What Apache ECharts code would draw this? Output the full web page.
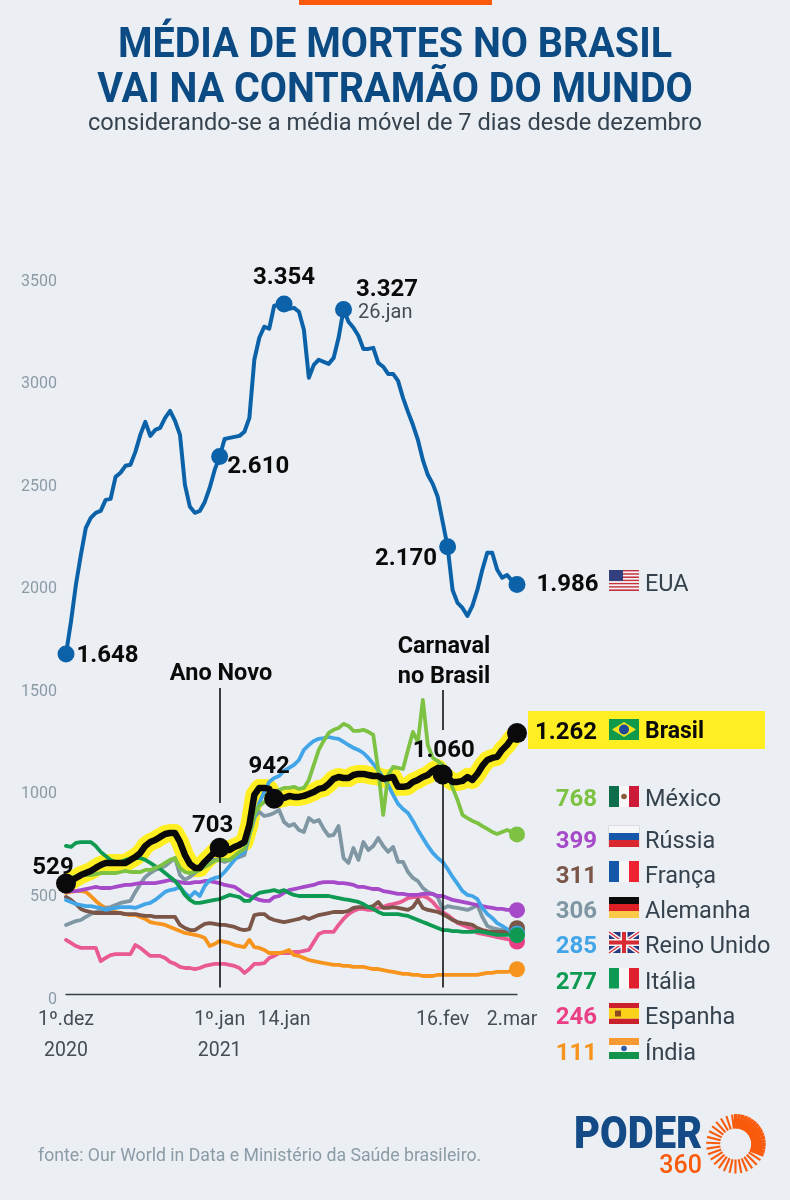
<!DOCTYPE html>
<html lang="pt-BR">
<head>
<meta charset="utf-8">
<title>Média de mortes no Brasil</title>
<style>html,body{margin:0;padding:0;background:#ebeff3}#grafico{width:790px;height:1200px}</style>
<script src="https://cdn.jsdelivr.net/npm/echarts@6/dist/echarts.min.js"></script>
</head>
<body>
<div id="grafico"></div>
<script>
// Média móvel de 7 dias de mortes, de 1º.dez.2020 a 2.mar.2021 (um valor por dia)
const eua = [
  1648,1804,1985,2131,2262,2311,2336,2345,2399,2404,
  2511,2531,2565,2570,2633,2716,2779,2711,2740,2750,
  2799,2833,2784,2716,2472,2365,2336,2345,2389,2458,
  2545,2610,2696,2701,2706,2711,2731,2799,3082,3189,
  3243,3233,3345,3350,3354,3330,3335,3316,3228,2994,
  3057,3082,3072,3062,3091,3189,3327,3267,3238,3199,
  3135,3135,3140,3067,3048,3013,3013,2979,2896,2828,
  2765,2692,2594,2521,2477,2414,2292,2170,1960,1897,
  1872,1833,1882,1960,2058,2141,2141,2058,2019,2033,
  2004,1986];
const brasil = [
  529,541,556,570,580,590,605,619,629,629,
  629,629,629,644,658,678,712,731,741,756,
  770,775,775,731,668,624,605,605,634,658,
  683,703,697,692,707,717,731,814,961,995,
  995,990,942,941,946,956,951,951,956,965,
  975,990,995,1014,1039,1048,1043,1043,1058,1063,
  1063,1058,1053,1053,1039,1043,1048,1000,1000,1004,
  1024,1034,1048,1058,1078,1092,1060,1043,1024,1024,
  1029,1048,1034,1063,1102,1131,1141,1146,1180,1204,
  1238,1262];
const mexico = [
  546,556,566,570,570,570,575,580,580,580,
  580,585,590,585,585,585,595,595,605,614,
  629,644,653,605,585,580,585,595,610,624,
  639,644,644,644,663,683,697,766,863,907,
  926,941,961,985,995,995,1000,990,995,1034,
  1107,1180,1224,1263,1278,1287,1307,1297,1273,1273,
  1278,1268,1253,1082,863,1058,1097,1092,1087,1180,
  1268,1219,1424,1204,1141,1126,1107,1058,995,936,
  863,848,834,824,809,795,780,770,780,790,
  780,768];
const russia = [
  488,492,492,497,502,507,512,507,507,507,
  512,517,522,522,527,531,531,531,531,536,
  541,546,541,536,531,531,536,536,541,541,
  536,531,522,517,512,497,478,468,458,449,
  444,444,463,468,483,497,502,507,512,517,
  522,531,536,536,536,531,531,527,522,512,
  512,507,502,502,492,488,483,478,478,473,
  473,473,478,478,478,468,468,458,449,444,
  439,434,429,424,419,414,410,405,405,400,
  400,399];
const franca = [
  463,449,429,405,395,390,385,385,385,385,
  385,385,380,380,380,375,371,371,366,366,
  366,366,366,327,312,302,302,317,332,336,
  332,327,327,322,317,307,302,307,375,380,
  380,361,351,346,341,346,351,356,366,356,
  366,375,380,385,390,390,390,395,410,414,
  414,414,419,439,410,410,414,410,405,400,
  414,449,410,400,395,390,380,366,351,341,
  336,332,327,312,302,297,293,293,293,297,
  307,311];
const alemanha = [
  327,336,346,351,366,380,390,400,410,414,
  424,434,439,444,488,527,561,580,595,605,
  614,634,653,570,546,561,580,600,624,644,
  644,644,634,644,653,658,668,766,853,878,
  858,863,873,887,829,809,819,790,780,848,
  829,839,795,761,766,809,653,629,702,644,
  731,692,712,751,712,683,707,634,634,585,
  556,541,507,488,478,463,405,419,414,410,
  405,400,410,424,366,322,312,307,302,297,
  293,306];
const reinoUnido = [
  449,439,429,424,419,419,414,410,400,405,
  410,414,414,414,410,419,429,434,449,468,
  488,497,502,512,483,463,488,468,517,546,
  556,561,585,614,644,668,683,766,848,922,
  975,1024,1043,1053,1078,1092,1107,1131,1180,1204,
  1224,1234,1238,1243,1238,1234,1219,1204,1190,1180,
  1165,1141,1112,1082,1043,1009,961,917,892,873,
  834,790,751,712,678,653,634,600,561,527,
  492,473,468,453,410,380,361,336,322,307,
  297,285];
const italia = [
  712,707,727,731,731,731,712,683,663,644,
  634,634,644,649,653,653,644,629,614,600,
  580,561,541,512,473,449,434,434,439,444,
  449,453,463,473,468,463,444,444,468,483,
  488,492,497,488,497,483,473,468,468,468,
  468,468,468,468,463,458,453,449,444,439,
  429,414,405,390,380,380,380,380,375,371,
  361,351,341,332,322,312,302,302,297,297,
  293,293,293,297,293,288,283,278,278,278,
  278,277];
const espanha = [
  254,239,224,215,215,215,215,151,166,180,
  185,185,185,185,229,215,195,176,176,176,
  166,146,137,122,117,117,112,117,127,132,
  137,137,137,132,127,117,93,112,137,137,
  141,166,176,190,190,190,195,195,200,205,
  244,283,293,293,293,327,356,380,395,405,
  405,400,400,410,414,424,429,434,444,458,
  463,463,468,458,439,410,390,375,356,336,
  327,317,307,288,283,278,273,268,263,258,
  254,246];
const india = [
  483,488,492,492,488,468,444,424,410,400,
  390,385,380,375,375,366,356,341,336,332,
  327,317,307,297,288,283,278,273,263,224,
  234,249,244,239,229,224,219,254,219,215,
  205,190,190,190,195,205,180,176,166,156,
  151,146,141,137,132,132,127,127,122,122,
  122,117,112,112,107,102,98,93,88,88,
  83,83,78,78,78,83,83,83,83,83,
  83,83,83,83,88,93,93,98,98,98,
  102,111];

const dias = eua.map((_, i) => String(i));
const rotulosX = {0: '1º.dez\n2020', 31: '1º.jan\n2021', 44: '14.jan', 76: '16.fev', 90: '2.mar'};
const ticksY = [0, 500, 1000, 1500, 2000, 2500, 3000, 3500];

const AZUL = '#0c62a9';
const PRETO = '#0a0a0a';
const AMARELO = '#ffee22';
const TEXTO = '#36424d';
const EIXO = '#8b9ba6';

// Países de menor destaque: ordem de desenho, de baixo para cima
const paises = [
  {nome: 'Espanha',     dados: espanha,    cor: '#ea5a92', corPonto: '#ea3f85'},
  {nome: 'Índia',       dados: india,      cor: '#f7941e'},
  {nome: 'Alemanha',    dados: alemanha,   cor: '#7f96a3'},
  {nome: 'França',      dados: franca,     cor: '#7a5548'},
  {nome: 'Rússia',      dados: russia,     cor: '#a64ac9'},
  {nome: 'Reino Unido', dados: reinoUnido, cor: '#42a5e8'},
  {nome: 'Itália',      dados: italia,     cor: '#0e9a52'},
  {nome: 'México',      dados: mexico,     cor: '#7dc242'}
];

const linha = (nome, dados, cor, largura, z) => ({
  name: nome, type: 'line', data: dados, symbol: 'none', silent: true, z,
  lineStyle: {color: cor, width: largura, join: 'round', cap: 'round'}
});

const rotuloNum = (extra) => Object.assign({
  show: true, color: PRETO, fontFamily: 'Roboto', fontWeight: 700, fontSize: 24
}, extra);

const ponto = (serie, i, label) => ({value: [i, serie[i]], label});

const pontosEua = [
  ponto(eua, 0,  rotuloNum({position: 'right', distance: 2, offset: [0, 2], formatter: '1.648'})),
  ponto(eua, 31, rotuloNum({position: 'right', distance: -1, offset: [0, 10], formatter: '2.610'})),
  ponto(eua, 44, rotuloNum({position: 'top', distance: 5, formatter: '3.354'})),
  ponto(eua, 56, rotuloNum({
    position: 'right', distance: 4, offset: [0, -9],
    formatter: '{a|3.327}\n{b|26.jan}',
    rich: {
      a: {fontFamily: 'Roboto', fontWeight: 700, fontSize: 24, color: PRETO, lineHeight: 25},
      b: {fontFamily: 'Roboto', fontWeight: 400, fontSize: 20, color: '#444d55', lineHeight: 20, padding: [0, 0, 0, 2]}
    }
  })),
  ponto(eua, 77, rotuloNum({position: 'left', distance: 2, offset: [0, 12], formatter: '2.170'})),
  ponto(eua, 91, rotuloNum({position: 'right', distance: 11, offset: [0, 0], formatter: '1.986'}))
];

const pontosBrasil = [
  ponto(brasil, 0,  rotuloNum({position: 'top', distance: 4, offset: [-13, 11], formatter: '529'})),
  ponto(brasil, 31, rotuloNum({position: 'top', distance: 1, offset: [-7, 1], formatter: '703'})),
  ponto(brasil, 42, rotuloNum({position: 'top', distance: 2, offset: [-5, -8], formatter: '942'})),
  ponto(brasil, 76, rotuloNum({position: 'top', distance: 3, offset: [1, 1], formatter: '1.060'})),
  ponto(brasil, 91, {show: false})
];

const ultimo = eua.length - 1;

const series = [
  linha('EUA', eua, AZUL, 4, 2),
  linha('Brasil (destaque)', brasil, AMARELO, 18, 1)
];
paises.forEach(p => series.push(linha(p.nome, p.dados, p.cor, 3.8, 2)));
series.push(Object.assign(linha('Brasil', brasil, PRETO, 6.5, 3), {
  markLine: {
    silent: true, symbol: 'none', animation: false,
    label: {show: false},
    lineStyle: {color: '#111', width: 1.6, type: 'solid'},
    data: [
      [{coord: ['31', 1482]}, {coord: ['31', 921]}],
      [{coord: ['31', 703]},  {coord: ['31', 22]}],
      [{coord: ['76', 1472]}, {coord: ['76', 1277]}],
      [{coord: ['76', 1060]}, {coord: ['76', 22]}]
    ]
  }
}));
paises.forEach(p => series.push({
  name: p.nome + ' (fim)', type: 'scatter', symbolSize: 16, z: 4, silent: true,
  itemStyle: {color: p.corPonto || p.cor, opacity: 1},
  data: [[ultimo, p.dados[ultimo]]]
}));
series.push({name: 'EUA (pontos)', type: 'scatter', symbolSize: 17, z: 5, silent: true,
  itemStyle: {color: AZUL, opacity: 1}, data: pontosEua});
series.push({name: 'Brasil (pontos)', type: 'scatter', symbolSize: 20, z: 5, silent: true,
  itemStyle: {color: PRETO, opacity: 1}, data: pontosBrasil});

// ---- textos, bandeiras e marca ----
const el = [];
const ret = (x, y, w, h, fill, z) => el.push({type: 'rect', shape: {x, y, width: w, height: h}, style: {fill}, silent: true, z: z || 10});
const txt = (x, y, text, font, fill, align, extra) => el.push(Object.assign({
  type: 'text', x, y: y + 2, silent: true, z: 12,
  style: {text, font, fill, align: align || 'left', verticalAlign: 'middle'}
}, extra || {}));

ret(299, 0, 193, 5, '#f95a0b');
txt(395, 44, 'MÉDIA DE MORTES NO BRASIL', '700 42px Roboto', '#0b4a82', 'center', {scaleX: .94});
txt(395, 89, 'VAI NA CONTRAMÃO DO MUNDO', '700 42px Roboto', '#0b4a82', 'center', {scaleX: .94});
txt(395, 122, 'considerando-se a média móvel de 7 dias desde dezembro', '400 23.6px Roboto', TEXTO, 'center');

txt(221, 672, 'Ano Novo', '700 23.5px Roboto', PRETO, 'center');
txt(444, 645, 'Carnaval', '700 23.5px Roboto', PRETO, 'center');
txt(444, 675, 'no Brasil', '700 23.5px Roboto', PRETO, 'center');

// faixa do Brasil
ret(528, 711, 237, 38, AMARELO, 0);
txt(597, 731, '1.262', '700 24px Roboto', PRETO, 'right');
txt(645, 730, 'Brasil', '700 23px Roboto', PRETO);

txt(645, 583, 'EUA', '400 23.5px Roboto', TEXTO);

const legenda = [
  ['768', 'México', '#7dc242', 798],
  ['399', 'Rússia', '#a64ac9', 840],
  ['311', 'França', '#7a5548', 875],
  ['306', 'Alemanha', '#7f96a3', 910],
  ['285', 'Reino Unido', '#42a5e8', 945],
  ['277', 'Itália', '#0e9a52', 981],
  ['246', 'Espanha', '#ea3f85', 1016],
  ['111', 'Índia', '#f7941e', 1052]
];
legenda.forEach(([n, nome, cor, y]) => {
  txt(597, y, n, '700 24px Roboto', cor, 'right');
  txt(645, y, nome, '400 23.5px Roboto', TEXTO);
});

// bandeiras
const FX = 609, FW = 30;
const faixasV = (y, h, c) => c.forEach((cor, i) => ret(FX + i * FW / 3, y, FW / 3, h, cor));
const faixasH = (y, h, c) => {
  const total = c.reduce((s, f) => s + f[1], 0);
  let yy = y;
  c.forEach(f => { ret(FX, yy, FW, h * f[1] / total, f[0]); yy += h * f[1] / total; });
};
const poli = (points, fill) => el.push({type: 'polygon', shape: {points}, style: {fill}, silent: true, z: 11});
const circ = (cx, cy, r, fill) => el.push({type: 'circle', shape: {cx, cy, r}, style: {fill}, silent: true, z: 11});
const traco = (x1, y1, x2, y2, stroke, w) => el.push({type: 'line', shape: {x1, y1, x2, y2}, style: {stroke, lineWidth: w}, silent: true, z: 11});

// EUA
faixasH(570, 21, Array.from({length: 13}, (_, i) => [i % 2 ? '#f4f4f4' : '#c8323e', 1]));
ret(FX, 570, 14, 11, '#33407f', 11);
// Brasil
ret(FX, 719, FW, 21, '#0f9a4b');
poli([[FX + 3, 729.5], [FX + 15, 722], [FX + 27, 729.5], [FX + 15, 737]], '#f7e31c');
circ(FX + 15, 729.5, 5, '#1f4a9a');
// México
faixasV(786, 21, ['#0d6e4c', '#f7f7f7', '#ce1a39']);
circ(FX + 15, 796.5, 2.8, '#8a5a3a');
// Rússia
ret(FX - .5, 825.5, FW + 1, 21.5, '#c9cdd1');
faixasH(826, 21, [['#f6f6f6', 1], ['#1557a8', 1], ['#d8272e', 1]]);
// França
faixasV(861, 21, ['#1557a8', '#f6f6f6', '#ee2230']);
// Alemanha
faixasH(897, 21, [['#0a0a0a', 1], ['#dd1f26', 1], ['#fbc94a', 1]]);
// Reino Unido
ret(FX, 932, FW, 21, '#26397f');
traco(FX, 932, FX + FW, 953, '#f6f6f6', 4);
traco(FX, 953, FX + FW, 932, '#f6f6f6', 4);
traco(FX, 932, FX + FW, 953, '#d62a35', 1.3);
traco(FX, 953, FX + FW, 932, '#d62a35', 1.3);
ret(FX + 11.5, 932, 7, 21, '#f6f6f6', 11);
ret(FX, 939, FW, 7, '#f6f6f6', 11);
ret(FX + 13, 932, 4, 21, '#d62a35', 11);
ret(FX, 940.5, FW, 4, '#d62a35', 11);
// Itália
faixasV(968, 20.5, ['#0e9a52', '#f6f6f6', '#e0202e']);
// Espanha
faixasH(1003, 21, [['#c9202c', 1], ['#fbd11a', 2], ['#c9202c', 1]]);
ret(FX + 6, 1010.5, 6, 6, '#8f4a20', 11);
// Índia
faixasH(1038, 21, [['#f89a33', 1], ['#f6f6f6', 1], ['#12924a', 1]]);
circ(FX + 15, 1048.5, 2.8, '#2a5aa8');

txt(38, 1155, 'fonte: Our World in Data e Ministério da Saúde brasileiro.', '400 17.7px Roboto', EIXO);

// marca: texto e sol de raios laranja
txt(574, 1135, 'PODER', '900 45px Roboto', '#144a85', 'left', {scaleX: .89});
txt(702, 1165, '360', '500 25px Roboto', '#f95a0b', 'right');
const CX = 735.7, CY = 1144;
const raio = (grau, ri, re, w) => {
  const a = grau * Math.PI / 180;
  traco(CX + Math.sin(a) * ri, CY - Math.cos(a) * ri, CX + Math.sin(a) * re, CY - Math.cos(a) * re, '#f95a0b', w);
};
for (let g = 0; g <= 112; g += 7) raio(g, 15.5, 30, 3.4);
for (let g = 123; g < 358; g += 11.5) raio(g, 15.5, 29.5, 2.1);

const grafico = echarts.init(document.getElementById('grafico'));
grafico.setOption({
  animation: false,
  backgroundColor: '#ebeff3',
  grid: {left: 66, right: 273, top: 274, height: 718, containLabel: false},
  xAxis: {
    type: 'category', data: dias, boundaryGap: false, offset: 2.5,
    axisLine: {onZero: false, lineStyle: {color: '#3a3f44', width: 1.4}},
    axisTick: {show: false},
    axisLabel: {
      interval: (i) => i in rotulosX,
      formatter: (_, i) => rotulosX[i] || '',
      alignMinLabel: 'center', alignMaxLabel: 'center',
      showMinLabel: true,
      fontFamily: 'Roboto', fontSize: 19.5, color: '#444d55', lineHeight: 31, margin: 10
    }
  },
  yAxis: {
    type: 'value', min: 0, max: ticksY[ticksY.length - 1], interval: 500,
    splitLine: {show: false}, axisLine: {show: false}, axisTick: {show: false},
    axisLabel: {
      formatter: (v) => String(v),
      fontFamily: 'Roboto', fontSize: 16, color: EIXO, margin: 9,
      verticalAlign: 'top', lineHeight: 15
    }
  },
  series,
  graphic: {elements: el}
});
</script>
</body>
</html>
